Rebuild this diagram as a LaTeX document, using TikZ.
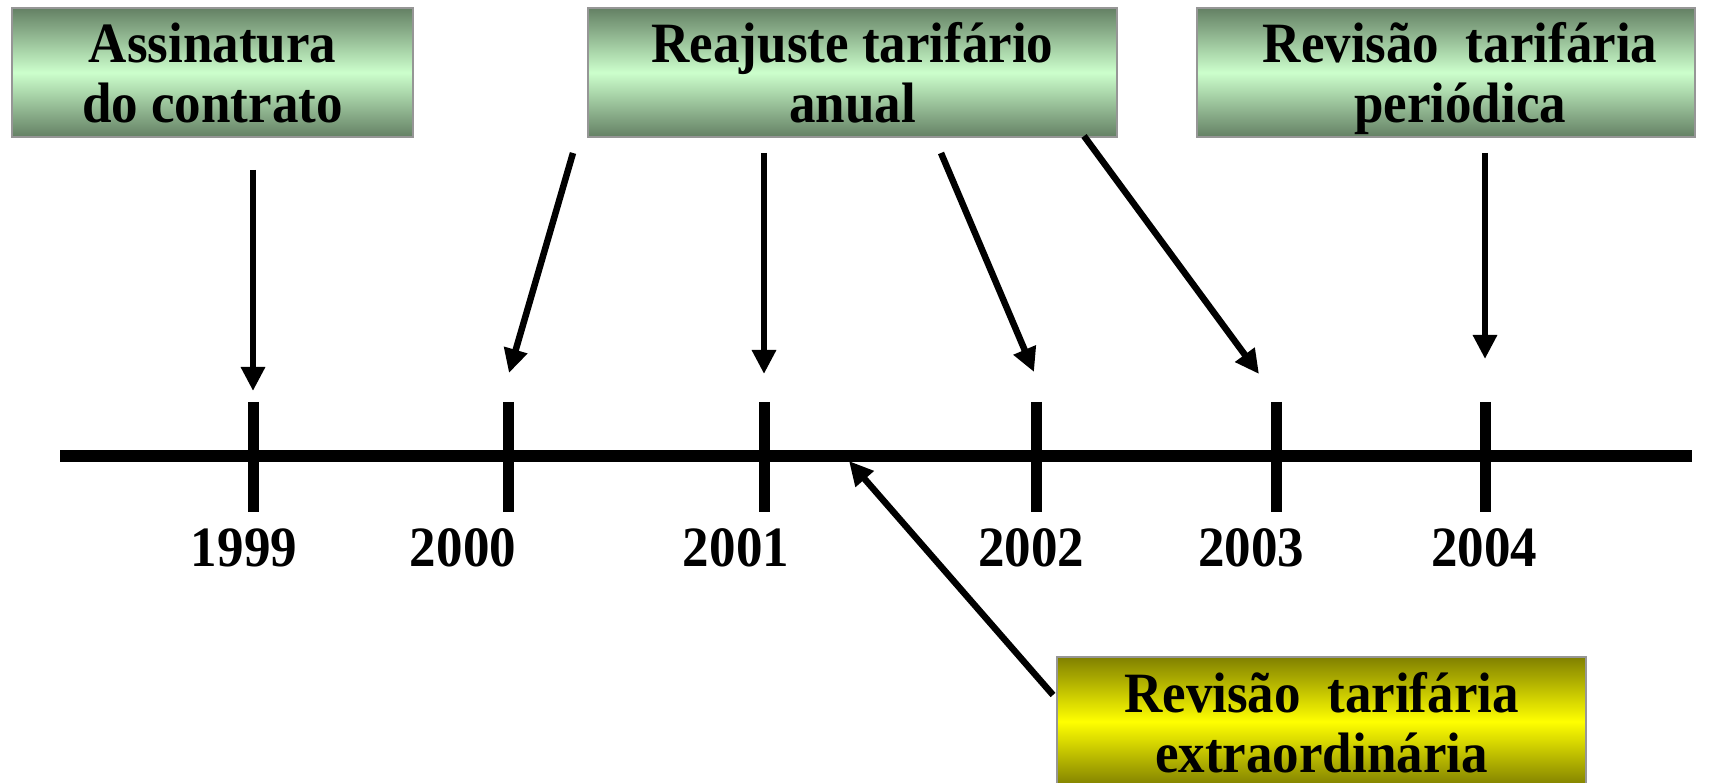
\documentclass[tikz,border=0pt]{standalone}
\usepackage{fontspec}
\setmainfont[FakeStretch=0.93]{Liberation Serif}
\usetikzlibrary{arrows.meta}

\definecolor{greendark}{RGB}{100,128,100}
\definecolor{greenlight}{RGB}{204,255,204}
\definecolor{olivedark}{RGB}{128,128,0}
\definecolor{yellowlight}{RGB}{255,255,0}
\definecolor{framegray}{RGB}{150,150,150}

% two text lines with a fixed vertical extent, so every box centres alike
\newcommand\twolines[2]{\rule{0pt}{41pt}\smash{#1}\\\smash{#2}}

\begin{document}
\begin{tikzpicture}[x=1pt,y=-1pt,
  bigfont/.style={font=\fontsize{57}{60}\selectfont\bfseries},
  eventbox/.style={rectangle, draw=framegray, line width=1.5pt, inner sep=0pt,
    align=center, minimum height=129pt, bigfont,
    top color=greendark, bottom color=greendark, middle color=greenlight},
  specialbox/.style={eventbox,
    top color=olivedark, bottom color=olivedark, middle color=yellowlight},
  yearlabel/.style={anchor=base, inner sep=0pt, bigfont},
  axisline/.style={line width=12pt},
  tickline/.style={line width=11pt},
  arr/.style={line width=6.5pt, -{Triangle[length=24pt,width=23pt]}}]

\useasboundingbox (0,0) rectangle (1717,783);
\clip (0,0) rectangle (1717,783);

% event boxes
\node[eventbox, minimum width=401pt] (assin) at (212.5,72.5)
  {\twolines{Assinatura}{do contrato}};
\node[eventbox, minimum width=529pt] (reaj) at (852.5,72.5)
  {\twolines{Reajuste tarifário}{anual}};
\node[eventbox, minimum width=498pt] (revper) at (1446,72.5)
  {\twolines{\hspace*{28pt}Revisão~~tarifária}{\hspace*{28pt}periódica}};
\node[specialbox, minimum width=529pt] (revext) at (1321.5,721.5)
  {\twolines{Revisão~~tarifária}{extraordinária}};

% time axis
\coordinate (axL) at (60,456);
\coordinate (axR) at (1692,456);
\draw[axisline] (axL) -- (axR);

\foreach \x/\yr [count=\i] in {253/1999,508/2000,764/2001,1036/2002,1276/2003,1485/2004}{
  \coordinate (t\i top) at (\x,402);
  \coordinate (t\i bot) at (\x,512);
  \draw[tickline] (t\i top) -- (t\i bot);
}

% year labels
\node[yearlabel] (y1999) at (244,566) {1999};
\node[yearlabel] (y2000) at (463,566) {2000};
\node[yearlabel] (y2001) at (736,566) {2001};
\node[yearlabel] (y2002) at (1031,566) {2002};
\node[yearlabel] (y2003) at (1251,566) {2003};
\node[yearlabel] (y2004) at (1484,566) {2004};

% arrow ends
\coordinate (a1s) at (253,170);   \coordinate (a1e) at (253,391);
\coordinate (a2s) at (573,153);   \coordinate (a2e) at (509,373);
\coordinate (a3s) at (764,153);   \coordinate (a3e) at (764,374);
\coordinate (a4s) at (941,153);   \coordinate (a4e) at (1034,372);
\coordinate (a5s) at (1084,136);  \coordinate (a5e) at (1259,374);
\coordinate (a6s) at (1485,153);  \coordinate (a6e) at (1485,359);
\coordinate (a7s) at (1053,695);  \coordinate (a7e) at (849,461);

\draw[arr] (a1s) -- (a1e);
\draw[arr] (a2s) -- (a2e);
\draw[arr] (a3s) -- (a3e);
\draw[arr] (a4s) -- (a4e);
\draw[arr] (a5s) -- (a5e);
\draw[arr] (a6s) -- (a6e);
\draw[arr] (a7s) -- (a7e);
\end{tikzpicture}
\end{document}
